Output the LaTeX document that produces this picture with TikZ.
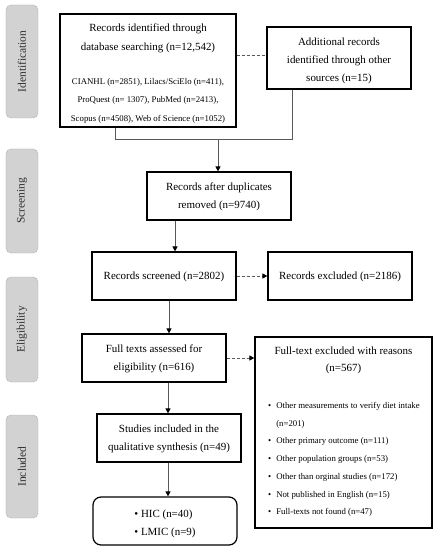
\documentclass[tikz,border=0pt]{standalone}
\usepackage{fontspec}
\setmainfont{Liberation Serif}
\usetikzlibrary{arrows.meta}
\begin{document}
\begin{tikzpicture}[x=1bp,y=-1bp,
  box/.style={draw=black, line width=1.2bp, inner sep=0pt, fill=white},
  sidelab/.style={draw=gray!60, fill=gray!35, rounded corners=5bp, rotate=90,
    text=black!82, font=\fontsize{11.5}{13}\selectfont, minimum height=32bp, inner sep=0pt},
  maintxt/.style={font=\fontsize{11}{18.5}\selectfont, align=center, inner sep=0pt},
  smalltxt/.style={font=\fontsize{8.8}{18.5}\selectfont, align=center, inner sep=0pt},
  listtxt/.style={font=\fontsize{8.8}{17.8}\selectfont, align=left, inner sep=0pt},
  conn/.style={draw=black!65, line width=0.9bp},
  arr/.style={conn, -{Triangle[length=5bp,width=5bp,color=black]}},
  darr/.style={arr, dash pattern=on 3bp off 2bp}
]
\useasboundingbox (0,0) rectangle (438,550);

% side labels
\node[sidelab, minimum width=113bp] (s1) at (22,61.5) {Identification};
\node[sidelab, minimum width=104bp] (s2) at (22,201) {Screening};
\node[sidelab, minimum width=105bp] (s3) at (22,329.5) {Eligibility};
\node[sidelab, minimum width=103bp] (s4) at (22,466.5) {Included};

% boxes
\node[box, minimum width=176bp, minimum height=113bp] (b1) at (148,70.5) {};
\node[box, minimum width=144bp, minimum height=62bp] (b2) at (339,58) {};
\node[box, minimum width=144bp, minimum height=48bp] (b3) at (219,196) {};
\node[box, minimum width=144bp, minimum height=48bp] (b4) at (164,276) {};
\node[box, minimum width=144bp, minimum height=48bp] (b5) at (340,276) {};
\node[box, minimum width=144bp, minimum height=48bp] (b6) at (154,358) {};
\node[box, minimum width=177bp, minimum height=191bp] (b7) at (343.5,432.5) {};
\node[box, minimum width=144bp, minimum height=48bp] (b8) at (169,438) {};
\node[box, rounded corners=8bp, minimum width=144bp, minimum height=48bp] (b9) at (165,521) {};

% texts
\node[maintxt] (t1a) at (148,38.5) {Records identified through\\database searching (n=12,542)};
\node[smalltxt] (t1b) at (148,100.5) {CIANHL (n=2851), Lilacs/SciElo (n=411),\\ProQuest (n= 1307), PubMed (n=2413),\\Scopus (n=4508), Web of Science (n=1052)};
\node[maintxt, font=\fontsize{11}{18}\selectfont] (t2) at (339,61) {Additional records\\identified through other\\sources (n=15)};
\node[maintxt] (t3) at (219,197) {Records after duplicates\\removed (n=9740)};
\node[maintxt] (t4) at (164,277) {Records screened (n=2802)};
\node[maintxt] (t5) at (340,277) {Records excluded (n=2186)};
\node[maintxt] (t6) at (154,359) {Full texts assessed for\\eligibility (n=616)};
\node[maintxt, font=\fontsize{11}{17}\selectfont] (t7a) at (343.5,360.5) {Full-text excluded with reasons\\(n=567)};
\node[listtxt, anchor=west] (t7b) at (268,459.5) {%
\textbullet\hspace{5bp}Other measurements to verify diet intake\\
\phantom{\textbullet\hspace{5bp}}(n=201)\\
\textbullet\hspace{5bp}Other primary outcome (n=111)\\
\textbullet\hspace{5bp}Other population groups (n=53)\\
\textbullet\hspace{5bp}Other than orginal studies (n=172)\\
\textbullet\hspace{5bp}Not published in English (n=15)\\
\textbullet\hspace{5bp}Full-texts not found (n=47)};
\node[maintxt] (t8) at (169,439) {Studies included in the\\qualitative synthesis (n=49)};
\node[maintxt, align=left] (t9) at (165,524) {\textbullet\ HIC (n=40)\\\textbullet\ LMIC (n=9)};

% connectors
\coordinate (j1) at (115,139);
\coordinate (j2) at (292,139);
\coordinate (j) at (218,139);
\coordinate (x2) at (175,0);
\coordinate (x3) at (169,0);
\coordinate (x4) at (168,0);

\draw[conn, dash pattern=on 3bp off 2bp] (b1.east |- 0,55) -- (b2.west |- 0,55);
\draw[conn] (j1 |- b1.south) -- (j1) -- (j2) -- (j2 |- b2.south);
\draw[arr] (j) -- (j |- b3.north);
\draw[arr] (x2 |- b3.south) -- (x2 |- b4.north);
\draw[darr] (b4.east) -- (b5.west);
\draw[arr] (x3 |- b4.south) -- (x3 |- b6.north);
\draw[darr] (b6.east) -- (b6.east -| b7.west);
\draw[arr] (x4 |- b6.south) -- (x4 |- b8.north);
\draw[arr] (x4 |- b8.south) -- (x4 |- b9.north);
\end{tikzpicture}
\end{document}
